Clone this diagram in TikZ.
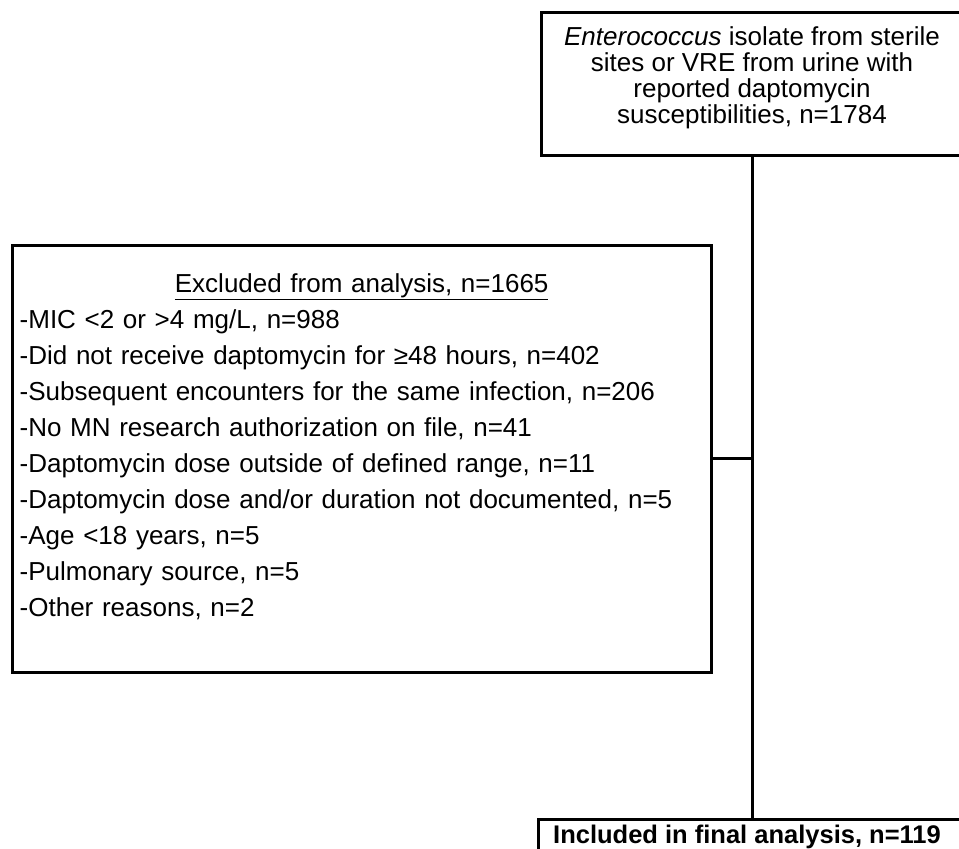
\documentclass[tikz,border=0pt]{standalone}
\usepackage{fontspec}
\setmainfont{Liberation Sans}
\usetikzlibrary{positioning}

\tikzset{
  flowbox/.style={draw, line width=3pt, rectangle, inner sep=0pt},
  flowline/.style={line width=3pt},
}

\begin{document}
\begin{tikzpicture}[x=1pt, y=-1pt]
      \useasboundingbox (0,0) rectangle (959,849);
      \clip (0,0) rectangle (959,849);
      % boxes
      \node[flowbox, minimum width=422pt, minimum height=143pt] (source) at (752,83.5) {};
      \node[align=center, inner sep=0pt, yshift=5.5pt, font=\fontsize{26}{26}\selectfont]
            (sourcetext) at (source.center)
            {\textit{Enterococcus} isolate from sterile\\ sites or VRE from urine with\\
             reported daptomycin\\ susceptibilities, n=1784};
      \node[flowbox, minimum width=699pt, minimum height=427pt] (excluded) at (361.5,458.5) {};
      \node[below right=30pt and 9pt of excluded.north west, anchor=north west, inner sep=0pt,
            text width=684pt, align=left, font=\fontsize{26}{36}\selectfont] (reasons)
            {\makebox[\hsize]{\underline{Excluded from analysis, n=1665}}\\
             -MIC <2 or >4 mg/L, n=988\\
             -Did not receive daptomycin for ≥48 hours, n=402\\
             -Subsequent encounters for the same infection, n=206\\
             -No MN research authorization on file, n=41\\
             -Daptomycin dose outside of defined range, n=11\\
             -Daptomycin dose and/or duration not documented, n=5\\
             -Age <18 years, n=5\\
             -Pulmonary source, n=5\\
             -Other reasons, n=2};
      \node[flowbox, anchor=north, minimum width=424pt, text height=18pt, text depth=45pt,
            inner ysep=6pt, font=\fontsize{25.5}{26}\selectfont\bfseries] (included) at (750,818)
            {\hspace*{-6pt}Included in final analysis, n=119};
      % connectors
      \draw[flowline] (source.south) -- (source.south |- included.north);
      \draw[flowline] (excluded.east) -- (excluded.east -| source.south);
\end{tikzpicture}
\end{document}
